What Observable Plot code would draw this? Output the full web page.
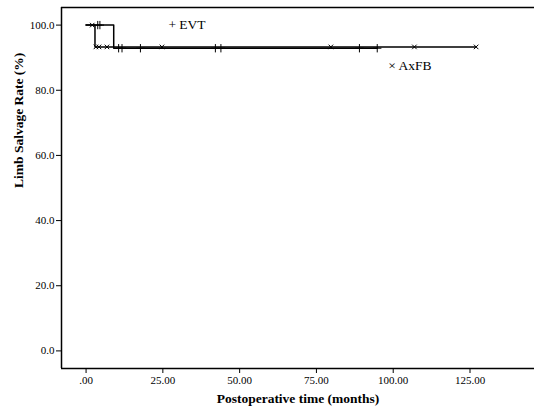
<!DOCTYPE html>
<html>
<head>
<meta charset="utf-8">
<script src="https://cdn.jsdelivr.net/npm/d3@7"></script>
<script src="https://cdn.jsdelivr.net/npm/@observablehq/plot@0.6"></script>
<style>
  html, body { margin: 0; padding: 0; background: #fff; }
  #chart svg { display: block; }
</style>
</head>
<body>
<div id="chart"></div>
<script>
// Series: step points (time in months, limb salvage %) and censor times
const seriesNames = ["EVT", "AxFB"];
const evtTime = [0, 9.0, 94.8];
const evtSurv = [100, 92.9, 92.9];
const evtCensor = [3.8, 4.5, 10.6, 11.7, 17.7, 42.1, 43.9, 89.0, 94.8];
const axfbTime = [0, 2.9, 127.0];
const axfbSurv = [100, 93.3, 93.3];
const axfbCensor = [2.0, 3.2, 4.2, 6.8, 24.7, 79.7, 106.9, 127.0];
const xTicks = [0, 25, 50, 75, 100, 125];
const yTicks = [0, 20, 40, 60, 80, 100];
const legendLabels = ["+ EVT", "× AxFB"];
const xTitle = "Postoperative time (months)";
const yTitle = "Limb Salvage Rate (%)";

function steps(times, surv, name) {
  return times.map((t, i) => ({series: name, time: t, surv: surv[i]}));
}
function survAt(times, surv, t) {
  let s = surv[0];
  for (let i = 0; i < times.length; i++) if (times[i] <= t) s = surv[i];
  return s;
}
const evtLine = steps(evtTime, evtSurv, "EVT");
const axfbLine = steps(axfbTime, axfbSurv, "AxFB");
const evtMarks = evtCensor.map(t => ({time: t, surv: survAt(evtTime, evtSurv, t)}));
const axfbMarks = axfbCensor.map(t => ({time: t, surv: survAt(axfbTime, axfbSurv, t)}));

const xDomain = [-8, 146];
const yDomain = [-5.4, 105.4];

const chart = Plot.plot({
  width: 534,
  height: 408,
  marginLeft: 61,
  marginRight: 0,
  marginTop: 7,
  marginBottom: 40,
  style: {fontFamily: "'Liberation Serif', 'Times New Roman', serif", fontSize: "11px", color: "#000", background: "#fff"},
  x: {domain: xDomain, ticks: xTicks, tickFormat: d => d === 0 ? ".00" : d.toFixed(2), tickSize: 5, tickPadding: 3,
      label: null, line: false},
  y: {domain: yDomain, ticks: yTicks, tickFormat: d => d.toFixed(1), tickSize: 5, tickPadding: 2,
      label: null, line: false},
  marks: [
    Plot.ruleX([xDomain[0]], {stroke: "#000", strokeWidth: 1.5}),
    Plot.ruleY([yDomain[0]], {stroke: "#000", strokeWidth: 1.5}),
    Plot.ruleY([yDomain[1]], {stroke: "#000", strokeWidth: 1.5}),
    Plot.line(evtLine, {x: "time", y: "surv", curve: "step-after", stroke: "#000", strokeWidth: 1.5}),
    Plot.line(axfbLine, {x: "time", y: "surv", curve: "step-after", stroke: "#000", strokeWidth: 1.5}),
    Plot.dot(evtMarks, {x: "time", y: "surv", symbol: "plus", r: 2.8, stroke: "#000", strokeWidth: 1}),
    Plot.dot(axfbMarks, {x: "time", y: "surv", symbol: "times", r: 2.2, stroke: "#000", strokeWidth: 1}),
    Plot.text([legendLabels[0]], {x: 26.8, y: 100, text: d => d, textAnchor: "start", fontSize: 13.5, fill: "#000"}),
    Plot.text([legendLabels[1]], {x: 98.4, y: 87.4, text: d => d, textAnchor: "start", fontSize: 13.5, fill: "#000"}),
    Plot.text([xTitle], {frameAnchor: "bottom", dy: 34, text: d => d, fontSize: 13.5, fontWeight: "bold", fill: "#000"}),
    Plot.text([yTitle], {frameAnchor: "left", dx: -43, rotate: -90, text: d => d, fontSize: 13.5, fontWeight: "bold", fill: "#000"})
  ]
});
document.getElementById("chart").appendChild(chart);
</script>
</body>
</html>
